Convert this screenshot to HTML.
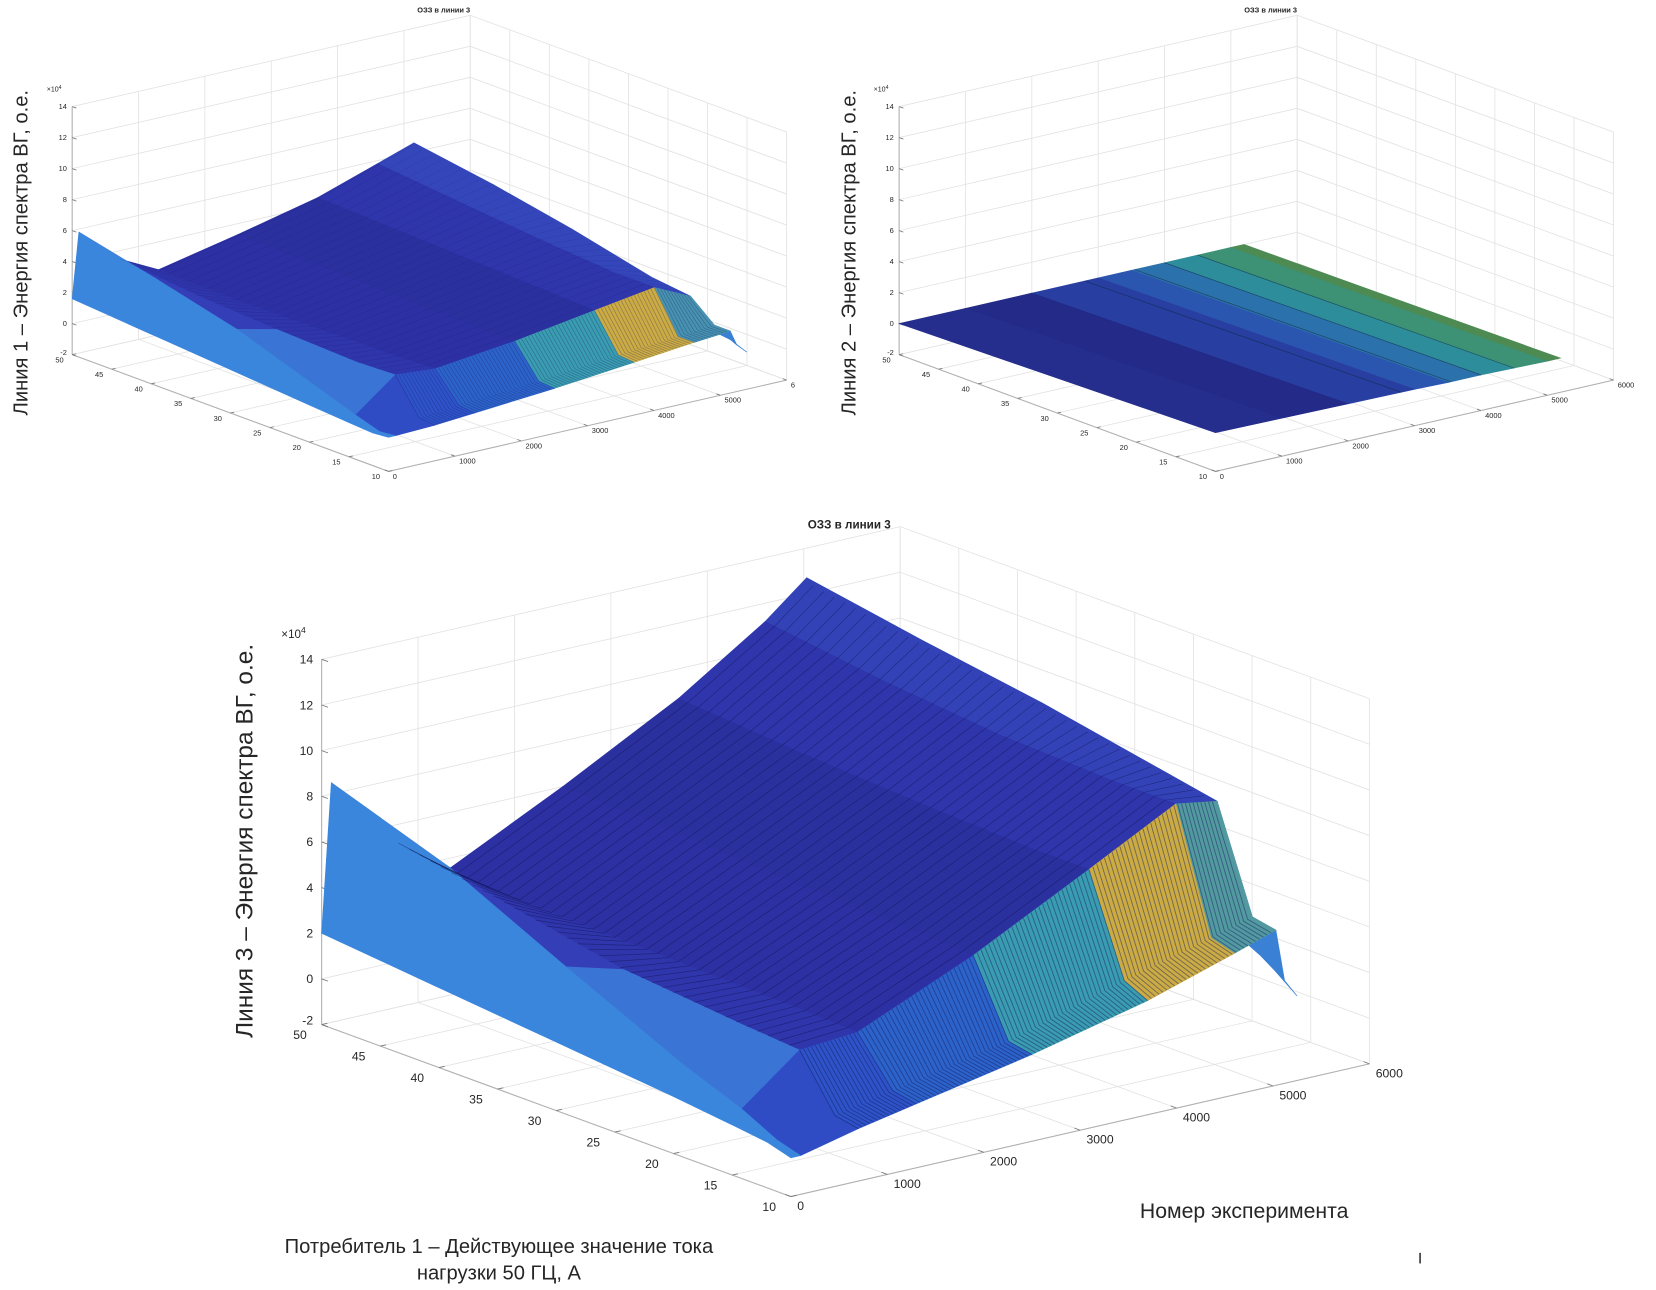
<!DOCTYPE html>
<html><head><meta charset="utf-8">
<style>
html,body{margin:0;padding:0;background:#fff;}
svg{display:block;}
text{font-family:"Liberation Sans",sans-serif;fill:#262626;}
</style></head>
<body>
<svg id="fig" width="1656" height="1290" viewBox="0 0 1560 1215" preserveAspectRatio="none" xmlns="http://www.w3.org/2000/svg">
<rect width="1560" height="1215" fill="#fff"/>
<g id="tl"></g>
<g id="tr"></g>
<g id="bg"></g>
<text transform="translate(26,238) rotate(-90)" text-anchor="middle" font-size="19">Линия 1 – Энергия спектра ВГ, о.е.</text>
<text transform="translate(806,238) rotate(-90)" text-anchor="middle" font-size="19">Линия 2 – Энергия спектра ВГ, о.е.</text>
<text transform="translate(238,792) rotate(-90)" text-anchor="middle" font-size="23">Линия 3 – Энергия спектра ВГ, о.е.</text>
<text x="1172" y="1147" text-anchor="middle" font-size="20">Номер эксперимента</text>
<text x="470" y="1180" text-anchor="middle" font-size="19">Потребитель 1 – Действующее значение тока</text>
<text x="470" y="1205" text-anchor="middle" font-size="19">нагрузки 50 ГЦ, А</text>
<rect x="1337" y="1180" width="1.5" height="10" fill="#333"/>
</svg>
<script>
// ---------- data ----------
const xTicks = [0,1000,2000,3000,4000,5000,6000];
const yTicks = [10,15,20,25,30,35,40,45,50];
const zTicks = [-2,0,2,4,6,8,10,12,14];
const tlXTickLabels = ['0','1000','2000','3000','4000','5000','6'];
const xTickLabels = ['0','1000','2000','3000','4000','5000','6000'];

// Line 1 surface
const l1X = [0,100,700,1300,2500,3700,4600,5150,5250,5400];
const l1Y = [10,12,15,20,30,40,50];
const l1Z_y10 = [0.2,0.2,0.3,0.5,0.9,1.4,1.8,2.0,1.0,0.4];
const l1Z_y12 = [0.1,0.1,0.4,0.6,1.0,1.5,1.8,2.0,1.5,0.8];
const l1Z_y15 = [0.2,0.6,2.6,2.4,3.0,3.8,4.4,3.3,1.8,1.0];
const l1Z_y20 = [0.4,1.5,2.5,2.3,3.0,3.9,4.4,3.6,1.0,0.5];
const l1Z_y30 = [0.8,3.3,2.7,2.2,3.1,4.1,4.8,4.8,0.0,-1.0];
const l1Z_y40 = [1.2,4.6,3.0,2.1,3.2,4.3,5.3,5.8,-1.0,-1.5];
const l1Z_y50 = [1.6,5.8,3.5,2.2,3.3,4.5,5.8,6.6,-1.5,-2.0];

// Line 2 surface (flat)
const l2X = [0,1000,2000,3000,3500,4000,4500,5000,5200];
const l2Y = [10,50];
const l2Z_y10 = [0.5,0.45,0.4,0.35,0.3,0.3,0.25,0.2,0.2];
const l2Z_y50 = [0.0,0.0,0.0,0.0,0.0,0.0,0.0,0.0,0.0];

// Line 3 surface
const l3X = [0,100,700,1300,2500,3700,4600,5030,5120,5250];
const l3Y = [10,12,15,20,30,40,50];
const l3Z_y10 = [-0.3,-0.3,0.3,0.8,1.8,3.0,4.2,4.8,2.5,1.7];
const l3Z_y12 = [0,0,0.5,1.0,2.0,3.5,4.5,5.0,3.2,2.5];
const l3Z_y15 = [0.2,0.8,2.8,3.0,5.2,7.8,9.8,9.5,4.0,3.8];
const l3Z_y20 = [0.5,1.8,3.0,3.1,5.3,7.8,9.8,10.0,3.0,2.5];
const l3Z_y30 = [1.0,4.2,3.5,3.2,5.5,8.0,10.0,11.0,0.0,-1.0];
const l3Z_y40 = [1.5,6.7,4.5,3.3,5.8,8.3,10.5,11.8,-1.5,-2.0];
const l3Z_y50 = [2.0,8.5,5.5,3.5,6.0,8.7,11.2,12.7,-2.0,-2.0];

// ---------- rendering ----------
const NS='http://www.w3.org/2000/svg';
function mk(tag, attrs, parent){const e=document.createElementNS(NS,tag);for(const k in attrs)e.setAttribute(k,attrs[k]);parent.appendChild(e);return e;}
function makeProj(c){return (x,y,z)=>[c.ox+c.ex[0]*x/6000+c.ey[0]*(y-10)/40, c.oy+c.ex[1]*x/6000+c.ey[1]*(y-10)/40-c.ez*(z+2)];}
function pts(a){return a.map(p=>p[0].toFixed(1)+','+p[1].toFixed(1)).join(' ');}
function hex2rgb(h){return [parseInt(h.slice(1,3),16),parseInt(h.slice(3,5),16),parseInt(h.slice(5,7),16)];}
function ramp(stops,v){
  if(v<=stops[0][0])return stops[0][1];
  for(let i=1;i<stops.length;i++){if(v<=stops[i][0]){const t=(v-stops[i-1][0])/(stops[i][0]-stops[i-1][0]);const a=hex2rgb(stops[i-1][1]),b=hex2rgb(stops[i][1]);return 'rgb('+a.map((q,k)=>Math.round(q+(b[k]-q)*t)).join(',')+')';}}
  return stops[stops.length-1][1];
}
const frontStops=[[0,'#2f48c2'],[1500,'#2e58cc'],[2500,'#2a74c8'],[3100,'#3a9cb0'],[3600,'#8eb860'],[4100,'#d4aa40'],[4600,'#7ab868'],[5000,'#3080d0'],[6000,'#3a80d4']];
const plateauStops=[[0,'#3846c0'],[1300,'#2c30a4'],[3000,'#2b2f9e'],[4600,'#3038ae'],[5100,'#3852c4'],[6000,'#3a5ac8']];
const l2Stops=[[0,'#26308e'],[1500,'#232a88'],[2800,'#2a45a8'],[3500,'#2b60b4'],[4000,'#2a84a4'],[4500,'#2f9690'],[5000,'#4a8c5a'],[5200,'#4f8a4c']];

function axes(g,P,fs,xl,big){
  const grid='#e3e3e3';
  xTicks.forEach(x=>{const a=P(x,50,-2),b=P(x,50,14);const l=mk('line',{x1:a[0],y1:a[1],x2:b[0],y2:b[1],stroke:grid,'stroke-width':0.8},g);});
  zTicks.forEach(z=>{const a=P(0,50,z),b=P(6000,50,z);const l=mk('line',{x1:a[0],y1:a[1],x2:b[0],y2:b[1],stroke:grid,'stroke-width':0.8},g);
    const d=P(6000,10,z);const l2=mk('line',{x1:b[0],y1:b[1],x2:d[0],y2:d[1],stroke:grid,'stroke-width':0.8},g);});
  yTicks.forEach(y=>{const a=P(6000,y,-2),b=P(6000,y,14);const l=mk('line',{x1:a[0],y1:a[1],x2:b[0],y2:b[1],stroke:grid,'stroke-width':0.8},g);
    const d=P(0,y,-2);const l2=mk('line',{x1:a[0],y1:a[1],x2:d[0],y2:d[1],stroke:grid,'stroke-width':0.8},g);});
  xTicks.forEach(x=>{const a=P(x,10,-2),b=P(x,50,-2);const l=mk('line',{x1:a[0],y1:a[1],x2:b[0],y2:b[1],stroke:grid,'stroke-width':0.8},g);});
  const ax='#b0b0b0';
  [[P(0,50,-2),P(0,50,14)],[P(0,50,-2),P(0,10,-2)],[P(0,10,-2),P(6000,10,-2)]].forEach(s=>{const l=mk('line',{x1:s[0][0],y1:s[0][1],x2:s[1][0],y2:s[1][1],stroke:ax,'stroke-width':1},g);});
  const tk=big?6:4;
  zTicks.forEach(z=>{const p=P(0,50,z);mk('line',{x1:p[0],y1:p[1],x2:p[0]+tk,y2:p[1]+tk*0.35,stroke:'#777','stroke-width':0.8},g);
    const t=mk('text',{x:p[0]-(big?8:5),y:p[1]+fs*0.35-(z===-2?(big?4:2):0),'text-anchor':'end','font-size':fs},g);t.textContent=String(z);});
  yTicks.forEach(y=>{const p=P(0,y,-2);mk('line',{x1:p[0],y1:p[1],x2:p[0]+tk*0.9,y2:p[1]-tk*0.2,stroke:'#777','stroke-width':0.8},g);
    const t=mk('text',{x:p[0]-(big?14:8),y:p[1]+fs*(big?1.2:1.05),'text-anchor':'end','font-size':fs},g);t.textContent=String(y);});
  xTicks.forEach((x,i)=>{const p=P(x,10,-2);mk('line',{x1:p[0],y1:p[1],x2:p[0]-tk*0.9,y2:p[1]-tk*0.35,stroke:'#777','stroke-width':0.8},g);
    const t=mk('text',{x:p[0]+(big?6:4),y:p[1]+fs*(big?1.1:1.0),'text-anchor':'start','font-size':fs},g);t.textContent=xl[i];});
  const top=P(0,50,14);
  const e=mk('text',{x:top[0]-(big?38:24),y:top[1]-(big?20:14),'font-size':fs*0.95},g);e.textContent='×10';
  const s=mk('tspan',{dy:-fs*0.4,'font-size':fs*0.7},e);s.textContent='4';
}

function surface(g,P,X,Y,Zrows,colorFn){
  const cells=[];
  for(let j=0;j<Y.length-1;j++)for(let i=0;i<X.length-1;i++){
    const d=(X[i]+X[i+1])/12000+((Y[j]+Y[j+1])/2-10)/40;
    cells.push({i,j,d});
  }
  cells.sort((a,b)=>b.d-a.d);
  cells.forEach(({i,j})=>{
    const q=[P(X[i],Y[j],Zrows[j][i]),P(X[i+1],Y[j],Zrows[j][i+1]),P(X[i+1],Y[j+1],Zrows[j+1][i+1]),P(X[i],Y[j+1],Zrows[j+1][i])];
    const col=colorFn(i,j,X,Y);
    const p=mk('polygon',{points:pts(q),fill:col,stroke:col,'stroke-width':0.6},g);
    
    
  });
}
function interpZ(X,Y,Zrows,x,y){
  let j=0;while(j<Y.length-2&&y>Y[j+1])j++;
  let i=0;while(i<X.length-2&&x>X[i+1])i++;
  const tx=(x-X[i])/(X[i+1]-X[i]),ty=(y-Y[j])/(Y[j+1]-Y[j]);
  const a=Zrows[j][i]*(1-tx)+Zrows[j][i+1]*tx,b=Zrows[j+1][i]*(1-tx)+Zrows[j+1][i+1]*tx;
  return a*(1-ty)+b*ty;
}
function stripes(g,P,X,Y,Zrows,x0,x1,dy,op,sw){
  for(let y=15+dy;y<=50;y+=dy){
    const arr=[];for(let x=x0;x<=x1;x+=100)arr.push(P(x,y,interpZ(X,Y,Zrows,x,y)));
    const l=mk('polyline',{points:pts(arr),fill:'none',stroke:'#0a0a40','stroke-opacity':op,'stroke-width':sw},g);
    
    
  }
}
function frontStripes(g,P,X,Y,Zrows,x0,x1,dx,op,sw){
  for(let x=x0;x<=x1;x+=dx){
    const a=P(x,10,interpZ(X,Y,Zrows,x,10)),b=P(x,12,interpZ(X,Y,Zrows,x,12)),c=P(x,15,interpZ(X,Y,Zrows,x,15));
    const l=mk('polyline',{points:pts([a,b,c]),fill:'none',stroke:'#14185a','stroke-opacity':op,'stroke-width':sw},g);
    
    
  }
}
function colorSurf(xEnd){return (i,j,X,Y)=>{
  const xm=(X[i]+X[i+1])/2;
  if(i===0)return '#3a86dd';
  if(X[i]>=xEnd)return '#3a80d4';
  if(j<=1)return ramp(frontStops,xm);
  if(i===1&&j<=3)return '#3a74d4';
  return ramp(plateauStops,xm);
};}
function title(g,x,y,fs){const t=mk('text',{x:x,y:y,'text-anchor':'middle','font-size':fs,'font-weight':'bold'},g);t.textContent='ОЗЗ в линии 3';}

// ---- Line 1 ----
(function(){
  const g=document.getElementById('tl');
  const P=makeProj({ox:366,oy:444,ex:[375,-86],ey:[-298,-110],ez:14.6});
  axes(g,P,7,tlXTickLabels,false);
  const Z=[l1Z_y10,l1Z_y12,l1Z_y15,l1Z_y20,l1Z_y30,l1Z_y40,l1Z_y50];
  surface(g,P,l1X,l1Y,Z,colorSurf(5150));
  stripes(g,P,l1X,l1Y,Z,700,5100,1.2,0.18,0.4);
  frontStripes(g,P,l1X,l1Y,Z,700,5100,50,0.35,0.6);
  title(g,418,12,7);
})();
// ---- Line 2 ----
(function(){
  const g=document.getElementById('tr');
  const P=makeProj({ox:1145,oy:444,ex:[375,-86],ey:[-298,-110],ez:14.6});
  axes(g,P,7,xTickLabels,false);
  const Z=[l2Z_y10,l2Z_y50];
  surface(g,P,l2X,l2Y,Z,(i,j,X)=>ramp(l2Stops,(X[i]+X[i+1])/2));
  [2800,3550,4000,4500].forEach(x=>{const a=P(x,10,interpZ(l2X,l2Y,Z,x,10)),b=P(x,50,interpZ(l2X,l2Y,Z,x,50));
    const l=mk('line',{x1:a[0],y1:a[1],x2:b[0],y2:b[1],stroke:'#102030','stroke-opacity':0.5,'stroke-width':0.7},g);
    
    });
  title(g,1197,12,7);
})();
// ---- Line 3 ----
(function(){
  const g=document.getElementById('bg');
  const P=makeProj({ox:745,oy:1127,ex:[545,-125],ey:[-442,-162],ez:21.5});
  axes(g,P,11.5,xTickLabels,true);
  const Z=[l3Z_y10,l3Z_y12,l3Z_y15,l3Z_y20,l3Z_y30,l3Z_y40,l3Z_y50];
  surface(g,P,l3X,l3Y,Z,colorSurf(5030));
  stripes(g,P,l3X,l3Y,Z,700,5000,0.9,0.45,0.6);
  frontStripes(g,P,l3X,l3Y,Z,700,5000,40,0.45,0.9);
  title(g,800,498,11);
})();
</script>
</body></html>
